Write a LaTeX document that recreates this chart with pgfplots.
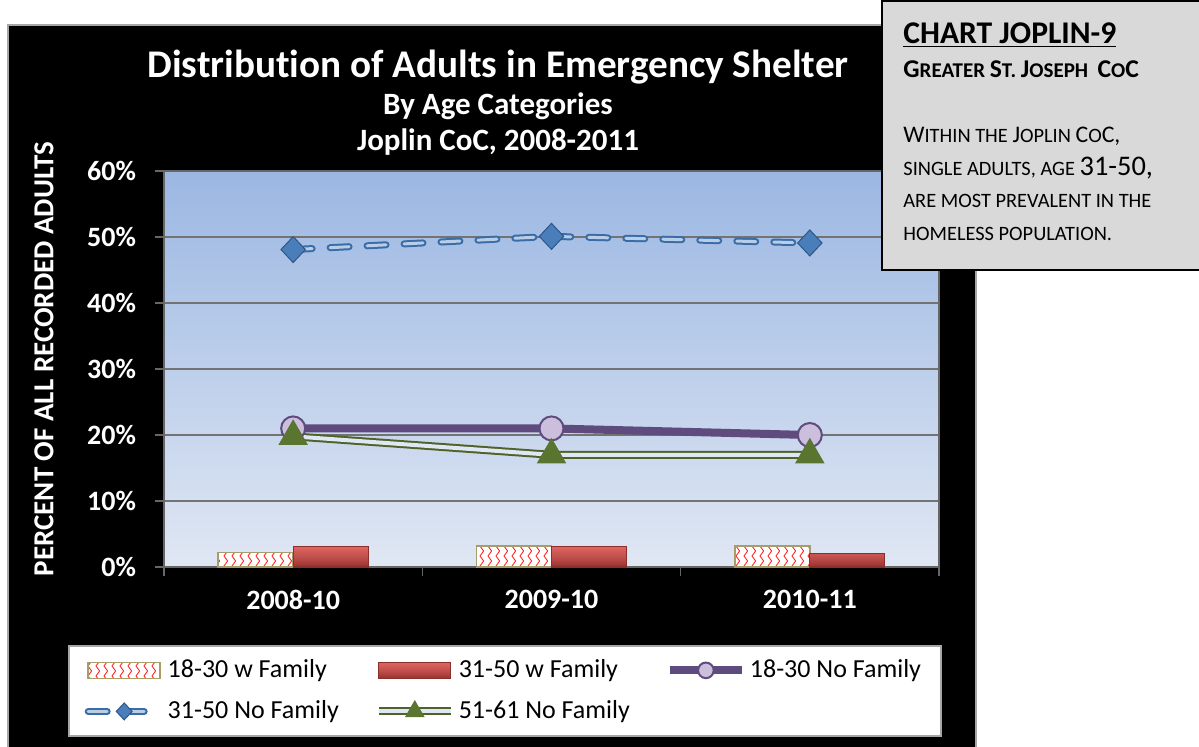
\documentclass[border=0pt]{standalone}
\usepackage{pgfplots}
\pgfplotsset{compat=1.18}
\usepackage{fontspec}
\setmainfont{Carlito}[Ligatures=NoCommon]
\usetikzlibrary{patterns}
\definecolor{bgtop}{HTML}{9BB7E2}
\definecolor{bgbot}{HTML}{E0E7F4}
\definecolor{purp}{HTML}{5F4B7D}
\definecolor{purpfill}{HTML}{CBBFDD}
\definecolor{blueline}{HTML}{3A6DA8}
\definecolor{blueinner}{HTML}{B9CDE6}
\definecolor{bluemark}{HTML}{4A7EBB}
\definecolor{grn}{HTML}{4F6228}
\definecolor{grnmark}{HTML}{5A7530}
\definecolor{tanb}{HTML}{A89C68}
\definecolor{redtop}{HTML}{E06460}
\definecolor{redmid}{HTML}{C0504D}
\definecolor{redbot}{HTML}{9A302D}
\definecolor{redb}{HTML}{8B2F2C}
\definecolor{boxgray}{HTML}{D9D9D9}
\pgfdeclarepatternformonly{zigzag}{\pgfqpoint{-1pt}{-1pt}}{\pgfqpoint{5pt}{6pt}}{\pgfqpoint{4pt}{5pt}}{%
  \pgfsetlinewidth{0.45pt}%
  \pgfpathmoveto{\pgfqpoint{0pt}{0pt}}%
  \pgfpathlineto{\pgfqpoint{1.8pt}{2.5pt}}%
  \pgfpathlineto{\pgfqpoint{0pt}{5pt}}%
  \pgfusepath{stroke}}
\pgfplotsset{
  barleg/.style={legend image code/.code={\draw[##1] (0pt,-4pt) rectangle (36pt,4pt);}},
  lineleg/.style={legend image code/.code={\draw[mark repeat=2,mark phase=2,##1,every mark/.append style={scale=0.65}] plot coordinates {(0pt,0pt) (18pt,0pt) (36pt,0pt)};}},
}
\newcommand\BodyBig{\fontsize{11.9}{14}\selectfont}
\newcommand\BodySm{\fontsize{10.2}{12}\selectfont}
\newcommand\B[1]{{\BodyBig #1}}
\newcommand\Sm[1]{{\BodySm #1}}
\newcommand\HB[1]{{\fontsize{12.8}{14}\selectfont #1}}
\newcommand\HS[1]{{\fontsize{10.5}{12}\selectfont #1}}
\pgfplotstableread{
x  a    b    c    d    e
0  2.2  3.1  21.0 48.1 19.8
1  3.2  3.1  21.0 50.1 17.0
2  3.2  2.0  20.0 49.1 17.0
}\datatable
\begin{document}
\begin{tikzpicture}
\clip (0,0) rectangle (599.5pt,-373pt);
\begin{scope}[x=0.5pt,y=-0.5pt]
\fill[white] (0,0) rectangle (1199,746);
\draw[fill=black, draw=gray!70, line width=0.6pt] (8,25) rectangle (976,760);
\node[anchor=base, text=white, font=\bfseries\fontsize{19.6}{22}\selectfont] at (498,77) {Distribution of Adults in Emergency Shelter};
\node[anchor=base, text=white, font=\bfseries\fontsize{15.5}{18}\selectfont] at (498,114) {By Age Categories};
\node[anchor=base, text=white, font=\bfseries\fontsize{15.5}{18}\selectfont] at (498,150) {Joplin CoC, 2008-2011};
\node[rotate=90, text=white, font=\bfseries\fontsize{14.5}{17}\selectfont] at (44,359) {PERCENT OF ALL RECORDED ADULTS};
\end{scope}
\begin{axis}[
  at={(82pt,-283.5pt)}, anchor=south west,
  scale only axis, width=387.5pt, height=198pt,
  xmin=-0.5, xmax=2.5, ymin=0, ymax=60,
  axis background/.style={top color=bgtop, bottom color=bgbot},
  axis line style={draw=gray!80!black, line width=0.6pt},
  ytick={0,10,...,60},
  yticklabels={0\%,10\%,20\%,30\%,40\%,50\%,60\%},
  ymajorgrids,
  grid style={draw=gray!90!black, line width=0.6pt},
  xtick={-0.5,0.5,1.5,2.5}, xticklabels={},
  extra x ticks={0,1,2},
  extra x tick labels={2008-10,2009-10,2010-11},
  extra x tick style={major tick length=0pt, grid=none},
  tick align=outside, major tick length=4.5pt,
  xtick pos=bottom, ytick pos=left,
  tick style={draw=gray!80!black, line width=0.6pt},
  tick label style={font=\bfseries\fontsize{14}{16}\selectfont, text=white},
  yticklabel style={xshift=-6pt},
  xticklabel style={yshift=-8pt},
  legend columns=3,
  legend cell align=left,
  legend style={at={(-0.124,-0.197)}, anchor=north west, fill=white,
    draw=gray!70, line width=0.8pt, font=\fontsize{13}{15}\selectfont,
    inner xsep=8pt, inner ysep=5pt,
    /tikz/every even column/.append style={column sep=16pt},
    /tikz/row sep=6pt},
]
\addplot[ybar, bar width=37.5pt, bar shift=-18.75pt, draw=tanb, line width=0.8pt,
  preaction={fill=white}, pattern=zigzag, pattern color=red!85!white, barleg]
  table[x=x,y=a]{\datatable};
\addlegendentry{18-30 w Family}
\addplot[ybar, bar width=37.5pt, bar shift=18.75pt, draw=redb, line width=0.6pt,
  top color=redtop, bottom color=redbot, middle color=redmid, barleg]
  table[x=x,y=b]{\datatable};
\addlegendentry{31-50 w Family}
\addplot[purp, line width=4pt, mark=*, mark size=6pt,
  mark options={fill=purpfill, draw=purp, line width=1pt}, lineleg]
  table[x=x,y=c]{\datatable};
\addlegendentry{18-30 No Family}
\addplot[blueline, line width=1pt, double=blueinner, double distance=1.5pt,
  line cap=round, dash pattern=on 9.5pt off 9pt,
  mark=diamond*, mark size=6.5pt,
  mark options={solid, fill=bluemark, draw=blueline!80!black, line width=0.5pt, double=none, xscale=1.25}, lineleg]
  table[x=x,y=d]{\datatable};
\addlegendentry{31-50 No Family}
\addplot[grn, line width=1pt, double=bgbot, double distance=2pt,
  mark=triangle*, mark size=8pt,
  mark options={fill=grnmark, draw=grnmark, line width=0.5pt, double=none}, lineleg]
  table[x=x,y=e]{\datatable};
\addlegendentry{51-61 No Family}
\end{axis}
\begin{scope}[x=0.5pt,y=-0.5pt]
\draw[fill=boxgray, draw=black, line width=1pt] (882,1) rectangle (1215,270);
\node[anchor=base west, inner sep=0pt, font=\bfseries\fontsize{15.8}{18}\selectfont] at (903,43) {\underline{CHART JOPLIN-9}};
\node[anchor=base west, inner sep=0pt, font=\bfseries] at (903,77) {\HB{G}\HS{REATER }\HB{S}\HS{T. }\HB{J}\HS{OSEPH\ \ }\HB{C}\HS{O}\HB{C}};
\node[anchor=base west, inner sep=0pt] at (903,142) {\B{W}\Sm{ITHIN THE }\B{J}\Sm{OPLIN }\B{C}\Sm{O}\B{C,}};
\node[anchor=base west, inner sep=0pt] at (903,175) {\Sm{SINGLE ADULTS, AGE }{\fontsize{14.2}{16}\selectfont 31-50,}};
\node[anchor=base west, inner sep=0pt] at (903,207) {\Sm{ARE MOST PREVALENT IN THE}};
\node[anchor=base west, inner sep=0pt] at (903,240) {\Sm{HOMELESS POPULATION.}};
\end{scope}
\end{tikzpicture}
\end{document}
